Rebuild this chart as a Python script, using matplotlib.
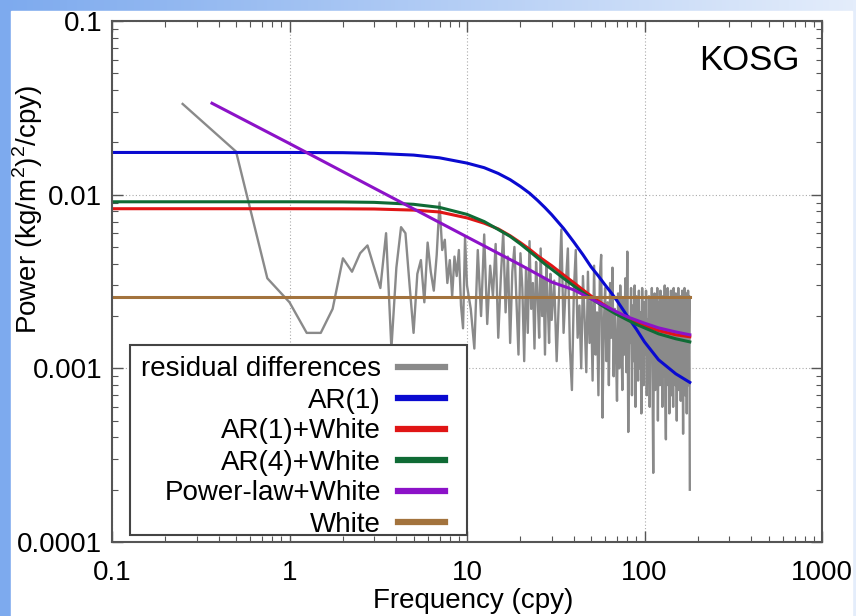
import numpy as np
import matplotlib
matplotlib.use("Agg")
import matplotlib.pyplot as plt
from matplotlib.patches import Rectangle
from matplotlib.ticker import LogLocator, NullFormatter

plt.rcParams['font.family'] = ['Liberation Sans', 'DejaVu Sans']
plt.rcParams['mathtext.fontset'] = 'custom'
plt.rcParams['mathtext.rm'] = 'Liberation Sans'

# residual periodogram (power in 1e-3 (kg/m^2)^2/cpy)
freq_lo = np.arange(0.25, 10.01, 0.25)
resid_lo = [33.3, 17.7, 3.3, 2.4, 1.6, 1.6, 2.2, 4.3, 3.6, 4.6,
            5.1, 3.8, 2.9, 6.0, 1.3, 3.8, 6.5, 6.0, 3.0, 1.6,
            3.5, 4.2, 2.4, 5.3, 3.6, 2.8, 4.5, 9.0, 4.8, 5.5,
            3.1, 4.2, 2.6, 4.4, 3.4, 4.8, 2.3, 1.7, 5.7, 3.0]
freq_mid = np.arange(10.5, 30.01, 0.5)
resid_mid = [2.2, 1.3, 4.8, 2.0, 5.9, 1.8, 3.9, 2.6, 5.2, 1.5,
             3.3, 6.1, 2.1, 4.4, 1.4, 3.6, 5.0, 2.4, 1.2, 4.6,
             2.9, 1.1, 3.8, 1.6, 5.4, 2.2, 3.1, 1.3, 4.1, 2.6,
             1.5, 4.9, 2.0, 3.3, 1.2, 3.9, 2.4, 1.4, 3.5, 1.9]
freq_hi = np.arange(31, 180.5, 1.0)
resid_hi = [3.2, 1.1, 2.7, 6.3, 1.6, 3.0, 4.9, 1.3, 0.75, 2.8,
            4.8, 1.5, 2.3, 1.0, 3.4, 1.9, 0.95, 3.6, 1.4, 2.5,
            0.85, 3.9, 1.2, 2.1, 0.7, 3.3, 4.5, 0.52, 1.8, 2.9,
            1.1, 2.4, 0.8, 3.1, 1.5, 3.8, 0.9, 2.2, 1.3, 0.65,
            2.7, 1.0, 3.0, 1.6, 0.75, 2.5, 1.2, 3.3, 0.95, 4.7,
            0.43, 2.0, 1.4, 2.9, 0.7, 2.3, 1.1, 3.0, 0.6, 2.6,
            1.3, 0.85, 2.8, 1.0, 2.1, 0.55, 2.9, 1.5, 0.8, 2.4,
            1.2, 2.8, 0.7, 1.9, 1.0, 2.6, 0.6, 2.2, 1.4, 2.9,
            0.9, 0.25, 1.8, 2.7, 0.75, 2.0, 1.1, 2.9, 0.5, 2.4,
            1.3, 0.8, 2.8, 1.0, 2.1, 0.6, 2.6, 1.5, 0.9, 3.0,
            0.7, 0.39, 2.3, 1.2, 2.9, 0.8, 1.9, 0.55, 2.5, 1.1,
            2.8, 0.7, 2.0, 1.4, 0.6, 2.9, 1.0, 2.2, 0.8, 2.7,
            1.3, 0.5, 2.4, 1.0, 2.9, 0.75, 1.8, 1.2, 2.6, 0.65,
            2.1, 0.9, 2.8, 1.3, 0.42, 2.5, 1.1, 2.9, 0.7, 2.0,
            1.0, 2.7, 0.55, 2.3, 1.2, 2.8, 0.8, 1.6, 2.6, 0.2]
resid_freq = np.concatenate([freq_lo, freq_mid, freq_hi])
resid = np.array(resid_lo + resid_mid + resid_hi) * 1e-3

# fitted noise models (1e-3 units)
model_freq = [0.1, 1, 2, 3, 5, 7, 10, 12.5, 15, 17.5, 20, 22.5, 25, 27.5, 30,
              35, 40, 45, 50, 55, 60, 65, 70, 80, 90, 100, 120, 150, 180]
ar1 = [17.5, 17.5, 17.45, 17.3, 16.9, 16.3, 15.2, 14.3, 13.25, 12.2, 11.15, 10.2, 9.26, 8.42, 7.67,
       6.39, 5.33, 4.51, 3.84, 3.4, 3.02, 2.72, 2.45, 2.0, 1.68, 1.42, 1.12, 0.93, 0.83]
ar1_white = [8.3, 8.3, 8.29, 8.27, 8.15, 7.95, 7.35, 6.85, 6.35, 5.8, 5.29, 4.85, 4.45, 4.15, 3.9,
             3.45, 3.11, 2.83, 2.61, 2.44, 2.3, 2.18, 2.08, 1.95, 1.84, 1.76, 1.65, 1.56, 1.52]
ar4_white = [9.1, 9.1, 9.08, 9.03, 8.8, 8.45, 7.7, 7.0, 6.3, 5.75, 5.2, 4.72, 4.32, 3.98, 3.72,
             3.3, 2.98, 2.73, 2.53, 2.37, 2.24, 2.13, 2.04, 1.90, 1.79, 1.71, 1.58, 1.48, 1.42]
pl_freq = [0.366, 1, 3, 10, 20, 30, 40, 50, 60, 70, 80, 100, 120, 150, 180]
pl_white = [33.6, 19.7, 10.9, 5.71, 3.94, 3.14, 2.83, 2.51, 2.29, 2.11, 1.98, 1.82, 1.71, 1.62, 1.56]
white_freq = [0.1, 180]
white = [2.58, 2.58]

xticks = [0.1, 1, 10, 100, 1000]
xtick_labels = ['0.1', '1', '10', '100', '1000']
yticks = [1e-4, 1e-3, 1e-2, 1e-1]
ytick_labels = ['0.0001', '0.001', '0.01', '0.1']

W, H = 856, 616
fig = plt.figure(figsize=(W / 100, H / 100), dpi=100)

# slide-like background: blue gradient with white sheet
bg = fig.add_axes([0, 0, 1, 1], zorder=0)
bg.axis('off')
left_c = np.array([125, 170, 238]) / 255
right_c = np.array([228, 237, 251]) / 255
t = np.linspace(0, 1, 256)[None, :, None]
grad = left_c * (1 - t) + right_c * t
bg.imshow(grad, extent=[0, 1, 0, 1], aspect='auto')
bg.add_patch(Rectangle((11 / W, 0), (852 - 11) / W, (H - 11) / H,
                       transform=bg.transAxes, color='white', zorder=2))
bg.set_xlim(0, 1)
bg.set_ylim(0, 1)

ax = fig.add_axes([112 / W, 1 - 542 / H, (822 - 112) / W, (542 - 21) / H], zorder=1)
ax.set_facecolor('white')

ax.plot(resid_freq, resid, color='#8a8a8a', lw=1.7, label='residual differences')
ax.plot(model_freq, np.array(ar1) * 1e-3, color='#0a0ad0', lw=2.2, label='AR(1)')
ax.plot(model_freq, np.array(ar1_white) * 1e-3, color='#e01515', lw=2.2, label='AR(1)+White')
ax.plot(model_freq, np.array(ar4_white) * 1e-3, color='#0f6b35', lw=2.2, label='AR(4)+White')
ax.plot(pl_freq, np.array(pl_white) * 1e-3, color='#8c12c8', lw=2.2, label='Power-law+White')
ax.plot(white_freq, np.array(white) * 1e-3, color='#a3733d', lw=2.2, label='White')

ax.set_xscale('log')
ax.set_yscale('log')
ax.set_xlim(0.1, 1000)
ax.set_ylim(1e-4, 0.1)
ax.set_xticks(xticks, xtick_labels)
ax.set_yticks(yticks, ytick_labels)
ax.xaxis.set_minor_locator(LogLocator(base=10, subs=np.arange(2, 10)))
ax.yaxis.set_minor_locator(LogLocator(base=10, subs=np.arange(2, 10)))
ax.xaxis.set_minor_formatter(NullFormatter())
ax.yaxis.set_minor_formatter(NullFormatter())
ax.tick_params(which='both', direction='in', top=True, right=True, color='#555555')
ax.tick_params(which='major', length=8, width=1)
ax.tick_params(which='minor', length=4, width=0.8)
ax.tick_params(axis='x', labelsize=20, pad=13)
ax.tick_params(axis='y', labelsize=20, pad=7)
for s in ax.spines.values():
    s.set_color('#555555')
    s.set_linewidth(1.5)
ax.grid(True, which='major', linestyle=(0, (1, 2)), color='#aaaaaa', lw=0.8)

ax.text((800 - 112) / 710, (542 - 70) / 521, 'KOSG', transform=ax.transAxes,
        ha='right', va='baseline', fontsize=25)

fig.text(473 / W, 1 - 601 / H, 'Frequency (cpy)', ha='center', va='center', fontsize=20)
fig.text(28 / W, 1 - 209 / H, 'Power (kg/m$^\\mathregular{2}$)$^\\mathregular{2}$/cpy)',
         rotation=90, ha='center', va='center', fontsize=20)

# gnuplot-style key: own frame, entries right-aligned with samples on the right
ax.add_patch(Rectangle(((130 - 112) / 710, (542 - 535) / 521), (467 - 130) / 710, (535 - 345) / 521,
                       transform=ax.transAxes, facecolor='white', edgecolor='#444444',
                       lw=1.5, zorder=4))
leg = ax.legend(loc='upper right', bbox_to_anchor=((445 - 112) / 710, (542 - 356.5) / 521),
                borderaxespad=0, markerfirst=False, fontsize=20, handlelength=1.7,
                handletextpad=0.6, labelspacing=0.18, borderpad=0, frameon=False)
leg.set_zorder(5)
for h in leg.get_lines():
    h.set_linewidth(4.5)

fig.savefig('out.png', dpi=100)
